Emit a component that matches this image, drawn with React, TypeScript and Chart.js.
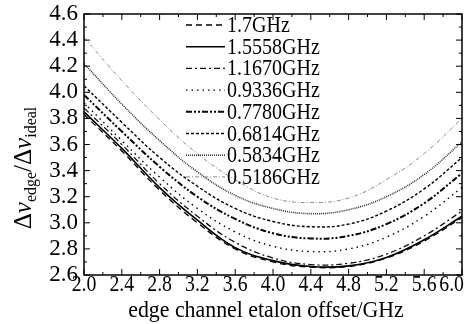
import { useEffect, useRef } from "react";
import { Chart, registerables } from "chart.js";
Chart.register(...registerables);

const FONT = "'Liberation Serif', 'DejaVu Serif', serif";

const offsets = [2.0, 2.4, 2.8, 3.2, 3.6, 4.0, 4.4, 4.8, 5.2, 5.6, 6.0];
const r1_7000 = [3.83, 3.55, 3.25, 3.0, 2.8, 2.7, 2.66, 2.665, 2.73, 2.86, 3.04];
const r1_5558 = [3.85, 3.57, 3.27, 3.02, 2.81, 2.71, 2.665, 2.67, 2.735, 2.87, 3.05];
const r1_1670 = [3.88, 3.6, 3.3, 3.05, 2.85, 2.73, 2.68, 2.69, 2.76, 2.9, 3.09];
const r0_9336 = [3.92, 3.63, 3.35, 3.11, 2.93, 2.82, 2.78, 2.8, 2.89, 3.05, 3.27];
const r0_7780 = [3.98, 3.7, 3.43, 3.2, 3.03, 2.92, 2.88, 2.9, 2.99, 3.15, 3.38];
const r0_6814 = [4.05, 3.77, 3.5, 3.28, 3.11, 3.01, 2.97, 2.99, 3.09, 3.26, 3.5];
const r0_5834 = [4.22, 3.91, 3.63, 3.39, 3.21, 3.11, 3.07, 3.1, 3.2, 3.37, 3.62];
const r0_5186 = [4.42, 4.09, 3.79, 3.53, 3.33, 3.19, 3.155, 3.19, 3.33, 3.53, 3.8];

const seriesLabels = ["1.7GHz", "1.5558GHz", "1.1670GHz", "0.9336GHz", "0.7780GHz", "0.6814GHz", "0.5834GHz", "0.5186GHz"];
const seriesValues = [r1_7000, r1_5558, r1_1670, r0_9336, r0_7780, r0_6814, r0_5834, r0_5186];
const seriesStyles = [
  { color: "#000", width: 1.3, dash: [6, 4] },
  { color: "#000", width: 1.6, dash: [] as number[] },
  { color: "#111", width: 1.3, dash: [6, 3, 2, 3] },
  { color: "#000", width: 1.4, dash: [1.5, 4] },
  { color: "#000", width: 2, dash: [6, 2, 2, 2, 2, 2] },
  { color: "#000", width: 1.4, dash: [3, 2] },
  { color: "#333", width: 1.6, dash: [1, 1] },
  { color: "#888", width: 1, dash: [4, 2, 1, 2] },
];

const xTickLabels = ["2.0", "2.4", "2.8", "3.2", "3.6", "4.0", "4.4", "4.8", "5.2", "5.6", "6.0"];
const xTitle = "edge channel etalon offset/GHz";

function condensed(ctx: any, text: string, x: number, y: number, sx: number, align: "left" | "center") {
  ctx.save();
  ctx.translate(x, y);
  ctx.scale(sx, 1);
  ctx.textAlign = align;
  ctx.fillText(text, 0, 0);
  ctx.restore();
}

const framePlugin = {
  id: "frame",
  afterDraw(chart: any) {
    const { ctx, chartArea: a, scales } = chart;
    const x = scales.x;
    const y = scales.y;
    ctx.save();
    ctx.strokeStyle = "#000";
    ctx.lineWidth = 1;
    const line = (x1: number, y1: number, x2: number, y2: number) => {
      ctx.beginPath();
      ctx.moveTo(x1, y1);
      ctx.lineTo(x2, y2);
      ctx.stroke();
    };
    xTickLabels.forEach((t, i) => {
      const v = parseFloat(t);
      const px = x.getPixelForValue(v);
      line(px, a.bottom, px, a.bottom - 6);
      line(px, a.top, px, a.top + 6);
      if (i < xTickLabels.length - 1) {
        const m = x.getPixelForValue((v + parseFloat(xTickLabels[i + 1])) / 2);
        line(m, a.bottom, m, a.bottom - 3);
        line(m, a.top, m, a.top + 3);
      }
    });
    const yt = y.ticks.map((t: any) => t.value);
    yt.forEach((v: number, i: number) => {
      const py = y.getPixelForValue(v);
      line(a.left, py, a.left + 6, py);
      line(a.right, py, a.right - 6, py);
      if (i < yt.length - 1) {
        const m = y.getPixelForValue((v + yt[i + 1]) / 2);
        line(a.left, m, a.left + 3, m);
        line(a.right, m, a.right - 3, m);
      }
    });
    ctx.lineWidth = 1.5;
    ctx.strokeRect(a.left, a.top, a.right - a.left, a.bottom - a.top);

    ctx.fillStyle = "#000";
    ctx.font = `23px ${FONT}`;
    ctx.textBaseline = "middle";
    const sxT = 0.86;
    xTickLabels.forEach((t) => {
      const px = x.getPixelForValue(parseFloat(t));
      const w = ctx.measureText(t).width * sxT;
      let cx = px;
      if (cx + w / 2 > chart.width - 1) cx = chart.width - 1 - w / 2;
      condensed(ctx, t, cx, a.bottom + 10, sxT, "center");
    });
    ctx.font = `23px ${FONT}`;
    condensed(ctx, xTitle, (a.left + a.right) / 2 - 7, a.bottom + 36, 0.95, "center");

    const parts = [
      { t: "Δ", f: `25px ${FONT}`, sub: false },
      { t: "ν", f: `italic 25px ${FONT}`, sub: false },
      { t: "edge", f: `16px ${FONT}`, sub: true },
      { t: "/Δ", f: `25px ${FONT}`, sub: false },
      { t: "ν", f: `italic 25px ${FONT}`, sub: false },
      { t: "ideal", f: `16px ${FONT}`, sub: true },
    ];
    let total = 0;
    const widths = parts.map((p) => {
      ctx.font = p.f;
      const w = ctx.measureText(p.t).width;
      total += w;
      return w;
    });
    ctx.save();
    ctx.translate(25, 168);
    ctx.rotate(-Math.PI / 2);
    ctx.textAlign = "left";
    ctx.textBaseline = "alphabetic";
    let cx = -total / 2;
    parts.forEach((p, i) => {
      ctx.font = p.f;
      ctx.fillText(p.t, cx, p.sub ? 11 : 6);
      cx += widths[i];
    });
    ctx.restore();

    ctx.font = `23px ${FONT}`;
    ctx.textBaseline = "middle";
    seriesLabels.forEach((lab, i) => {
      const st = seriesStyles[i];
      const ly = 25 + i * 21.7;
      ctx.save();
      ctx.strokeStyle = st.color;
      ctx.lineWidth = st.width;
      ctx.setLineDash(st.dash);
      ctx.beginPath();
      ctx.moveTo(186, ly);
      ctx.lineTo(225, ly);
      ctx.stroke();
      ctx.restore();
      ctx.fillStyle = "#000";
      condensed(ctx, lab, 227, ly + 1, 0.87, "left");
    });
    ctx.restore();
  },
};

export default function App() {
  const ref = useRef<HTMLCanvasElement>(null);
  useEffect(() => {
    if (!ref.current) return;
    const chart = new Chart(ref.current, {
      type: "line",
      data: {
        datasets: seriesValues.map((vals, i) => ({
          label: seriesLabels[i],
          data: offsets.map((o, j) => ({ x: o, y: vals[j] })),
          borderColor: seriesStyles[i].color,
          borderWidth: seriesStyles[i].width,
          borderDash: seriesStyles[i].dash,
          pointRadius: 0,
          tension: 0.4,
          fill: false,
        })),
      },
      options: {
        animation: false,
        responsive: false,
        devicePixelRatio: 1,
        layout: { padding: { left: 0, top: 14, right: 3, bottom: 0 } },
        plugins: { legend: { display: false }, tooltip: { enabled: false } },
        scales: {
          x: {
            type: "linear",
            min: 2,
            max: 6,
            grid: { display: false },
            border: { display: false },
            ticks: { display: false, stepSize: 0.4 },
            afterFit: (s: any) => {
              s.height = 49;
              s.paddingLeft = 0;
              s.paddingRight = 0;
            },
          },
          y: {
            min: 2.6,
            max: 4.6,
            grid: { display: false, drawTicks: false },
            border: { display: false },
            ticks: {
              stepSize: 0.2,
              autoSkip: false,
              padding: 6,
              color: "#000",
              font: { family: FONT, size: 23 },
              callback: (v: any) => Number(v).toFixed(1),
            },
            afterFit: (s: any) => {
              s.width = 84;
              s.paddingTop = 0;
              s.paddingBottom = 0;
            },
          },
        },
      },
      plugins: [framePlugin],
    });
    return () => chart.destroy();
  }, []);
  return (
    <div style={{ position: "absolute", left: 0, top: 0, width: 465, height: 324, background: "#fff" }}>
      <canvas ref={ref} width={465} height={324} />
    </div>
  );
}
